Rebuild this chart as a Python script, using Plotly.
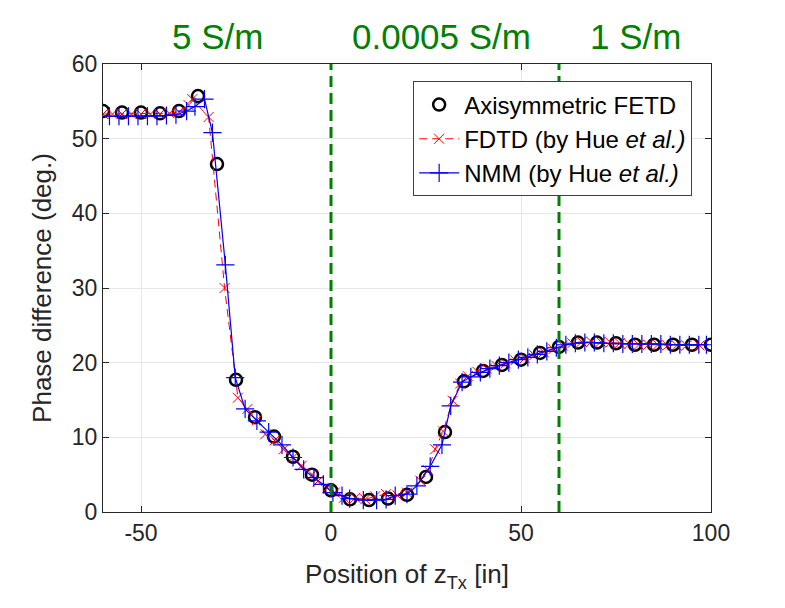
import plotly.graph_objects as go

# Axisymmetric FETD (circles, every 5 in)
fetd_x = [-60, -55, -50, -45, -40, -35, -30, -25, -20, -15, -10, -5, 0, 5, 10, 15,
          20, 25, 30, 35, 40, 45, 50, 55, 60, 65, 70, 75, 80, 85, 90, 95, 100]
fetd_y = [53.7, 53.5, 53.5, 53.4, 53.7, 55.7, 46.6, 17.7, 12.7, 10.1, 7.4, 5.0, 2.9, 1.7,
          1.6, 1.8, 2.3, 4.7, 10.7, 17.5, 18.9, 19.7, 20.4, 21.3, 22.1, 22.7, 22.7, 22.6,
          22.4, 22.4, 22.4, 22.4, 22.4]

# FDTD (by Hue et al.)
fdtd_x = [-60, -57.5, -55, -52.5, -50, -47.5, -45, -42.5, -40, -37.5, -36.5, -32.2, -28,
          -24.5, -22, -19.5, -17.3, -14.8, -12.5, -10, -7.7, -5, -3.5, -1, 1, 3.4, 6.4, 9,
          11.6, 14.5, 17.5, 20, 23.5, 25.5, 27.4, 29.5, 32, 34, 36, 38.5, 41, 43.5, 46,
          48.5, 51, 53.5, 56, 58.5, 61, 63.5, 66, 68.5, 71, 73.5, 76, 78.5, 81, 83.5, 86,
          88.5, 91, 93.5, 97]
fdtd_y = [53.3, 53.3, 53.3, 53.3, 53.3, 53.3, 53.3, 53.4, 53.6, 54.5, 55.3, 52.9, 30.0,
          15.3, 13.8, 12.3, 10.4, 9.6, 8.4, 7.3, 6.2, 5.0, 4.1, 3.2, 2.6, 1.9, 1.9, 1.7,
          2.1, 2.4, 2.2, 2.6, 4.2, 5.6, 8.4, 10.8, 14.9, 17.2, 18.2, 18.8, 19.2, 19.6, 19.9,
          20.3, 20.6, 21.0, 21.4, 21.8, 22.3, 22.6, 22.8, 22.8, 22.8, 22.7, 22.6, 22.5,
          22.4, 22.4, 22.4, 22.3, 22.3, 22.3, 22.3]

# NMM (by Hue et al.)
nmm_x = [-58.3, -55.8, -53.3, -50.8, -48.3, -45.8, -43.3, -40.8, -38, -35.8, -33.3, -31.2,
         -27.8, -25.2, -22.6, -19.5, -16.4, -12.9, -10, -7.2, -4.5, -2, 0.5, 2.9, 4.9, 8.5,
         12, 14.5, 16.9, 20, 22.6, 26.1, 29.2, 31.5, 34.5, 36.8, 39.3, 41.8, 44.3, 46.8,
         49.3, 51.8, 54.3, 56.8, 59.3, 61.8, 64.3, 66.8, 69.3, 71.8, 74.3, 76.8, 79.3, 81.8,
         84.3, 86.8, 89.3, 91.8, 94.3, 96.8, 98.8]
nmm_y = [53.0, 53.0, 53.0, 53.0, 53.0, 53.0, 53.1, 53.2, 53.7, 54.3, 55.3, 50.8, 33.1,
         18.0, 13.8, 12.2, 10.7, 9.0, 7.3, 5.7, 4.6, 3.7, 2.6, 2.2, 1.8, 1.6, 1.6, 1.7,
         2.2, 2.4, 3.5, 6.1, 9.0, 14.2, 17.4, 18.1, 18.7, 19.2, 19.6, 20.0, 20.4, 20.7,
         21.1, 21.5, 22.0, 22.4, 22.6, 22.7, 22.7, 22.6, 22.6, 22.5, 22.5, 22.5, 22.5,
         22.5, 22.4, 22.4, 22.4, 22.4, 22.4]

boundaries = [0, 60]
region_labels = ["5 S/m", "0.0005 S/m", "1 S/m"]
region_label_x = [-30, 29, 80]

x_ticks = [-50, 0, 50, 100]
x_tick_labels = ["-50", "0", "50", "100"]
y_ticks = [0, 10, 20, 30, 40, 50, 60]

FONT = "Liberation Sans, Arial, sans-serif"
AX = "#262626"

fig = go.Figure()

fig.add_trace(go.Scatter(
    x=fetd_x, y=fetd_y, mode="markers", name="Axisymmetric FETD",
    marker=dict(symbol="circle-open", size=12, color="black", line=dict(color="black", width=2.5)),
))
fig.add_trace(go.Scatter(
    x=fdtd_x, y=fdtd_y, mode="lines+markers", name="FDTD (by Hue <i>et al.)</i>",
    line=dict(color="red", width=1, dash="8px,5px"),
    marker=dict(symbol="x-thin-open", size=10, color="red", line=dict(color="red", width=1)),
))
fig.add_trace(go.Scatter(
    x=nmm_x, y=nmm_y, mode="lines+markers", name="NMM (by Hue <i>et al.)</i>",
    line=dict(color="blue", width=1.2),
    marker=dict(symbol="cross-thin-open", size=13, color="blue", line=dict(color="blue", width=1.2)),
))

# conductivity boundaries
for b in boundaries:
    fig.add_shape(type="line", x0=b, x1=b, y0=0, y1=60, xref="x", yref="y",
                  line=dict(color="#008000", width=3, dash="11px,6px"))

for txt, xv in zip(region_labels, region_label_x):
    fig.add_annotation(x=xv, y=1.061, xref="x", yref="paper", text=txt, showarrow=False,
                       font=dict(size=35, color="#008000", family=FONT), yanchor="middle")

fig.update_layout(
    width=777, height=600,
    margin=dict(l=95, r=74, t=56, b=96),
    paper_bgcolor="white", plot_bgcolor="white",
    font=dict(family=FONT, size=22, color=AX),
    showlegend=True,
    legend=dict(
        x=0.969, y=0.961, xanchor="right", yanchor="top",
        bgcolor="white", bordercolor="#404040", borderwidth=1,
        font=dict(size=24, color="black", family=FONT),
        tracegroupgap=0, itemwidth=40,
    ),
    xaxis=dict(
        range=[-60, 100], tickvals=x_ticks, ticktext=x_tick_labels,
        ticks="inside", ticklen=6, tickcolor=AX,
        showline=True, linecolor=AX, linewidth=1, mirror="allticks",
        showgrid=True, gridcolor="#e6e6e6", zeroline=False, automargin=False,
        title=dict(text="Position of z<sub>Tx</sub> [in]", font=dict(size=26, color=AX), standoff=20),
        tickfont=dict(size=23, color=AX),
    ),
    yaxis=dict(
        range=[0, 60], tickvals=y_ticks, ticks="inside", ticklen=6, tickcolor=AX,
        showline=True, linecolor=AX, linewidth=1, mirror="allticks",
        showgrid=True, gridcolor="#e6e6e6", zeroline=False, automargin=False,
        title=dict(text="Phase difference (deg.)", font=dict(size=26, color=AX), standoff=12),
        tickfont=dict(size=23, color=AX),
    ),
)

fig.write_html("out.html")
